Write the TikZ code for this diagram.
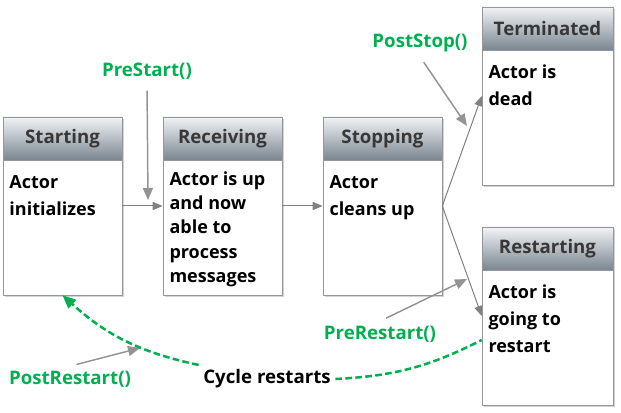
\documentclass[tikz,border=0pt]{standalone}
\usepackage{fontspec}
\setmainfont{Open Sans}
\usetikzlibrary{arrows.meta,shadows,positioning}

\definecolor{hookgreen}{RGB}{0,176,80}
\definecolor{framegray}{RGB}{150,150,150}
\definecolor{linkgray}{RGB}{128,128,128}
\definecolor{headtop}{RGB}{242,244,246}
\definecolor{headbot}{RGB}{122,134,144}

\tikzset{
  statebox/.style={draw=framegray, fill=white, inner sep=0pt,
    minimum width={119*0.75pt}, minimum height={178*0.75pt},
    drop shadow={shadow xshift=1.2pt, shadow yshift=-1.2pt, opacity=0.35}},
  widebox/.style={minimum width={131*0.75pt}},
  headbar/.style={draw=framegray, top color=headtop, bottom color=headbot,
    anchor=north, inner sep=0pt, minimum width={119*0.75pt},
    minimum height={43*0.75pt}, text=black!78,
    font=\bfseries\fontsize{14}{16}\selectfont},
  bodytext/.style={anchor=north west, align=left, inner sep=0pt,
    execute at begin node=\rule{0pt}{15pt},
    font=\bfseries\fontsize{13.5}{20.5}\selectfont},
  flowarrow/.style={draw=linkgray, line width=0.75pt,
    -{Triangle[length=7.5pt,width=6pt]}},
  hintarrow/.style={draw=linkgray!85, line width=1.1pt, shorten <=5pt,
    -{Triangle[length=9pt,width=7.5pt]}},
  hooklabel/.style={text=hookgreen, font=\bfseries\fontsize{14}{16}\selectfont},
  loopline/.style={draw=hookgreen, line width=1.9pt,
    dash pattern=on 5pt off 2.5pt}
}

\begin{document}
\begin{tikzpicture}[x=0.75pt, y=-0.75pt]
  \useasboundingbox (0,0) rectangle (621,413);

  % states
  \node[statebox] (starting) at (62.5,206) {};
  \node[headbar] (starting-head) at (starting.north) {Starting};
  \node[bodytext] (starting-text) at ([shift={(6.5,15)}]starting-head.south west)
    {Actor\\initializes};

  \node[statebox] (receiving) at (222.5,206) {};
  \node[headbar] (receiving-head) at (receiving.north) {Receiving};
  \node[bodytext, font=\bfseries\fontsize{13.5}{18.2}\selectfont] (receiving-text)
    at ([shift={(6.5,11)}]receiving-head.south west)
    {Actor is up\\and now\\able to\\process\\messages};

  \node[statebox] (stopping) at (382.5,206) {};
  \node[headbar] (stopping-head) at (stopping.north) {Stopping};
  \node[bodytext] (stopping-text) at ([shift={(6.5,15)}]stopping-head.south west)
    {Actor\\cleans up};

  \node[statebox, widebox] (terminated) at (547.5,96) {};
  \node[headbar, widebox] (terminated-head) at (terminated.north) {Terminated};
  \node[bodytext] (terminated-text) at ([shift={(6.5,14)}]terminated-head.south west)
    {Actor is\\dead};

  \node[statebox, widebox] (restarting) at (547.5,316) {};
  \node[headbar, widebox] (restarting-head) at (restarting.north) {Restarting};
  \node[bodytext] (restarting-text) at ([shift={(6.5,14)}]restarting-head.south west)
    {Actor is\\going to\\restart};

  % hooks
  \node[hooklabel] (prestart) at (147,71) {PreStart()};
  \node[hooklabel] (poststop) at (420,43) {PostStop()};
  \node[hooklabel] (prerestart) at (380,334) {PreRestart()};
  \node[hooklabel] (postrestart) at (70,379) {PostRestart()};
  \node[font=\bfseries\fontsize{14}{16}\selectfont] (cycle) at (267,379) {Cycle restarts};

  \coordinate (prestart-tip) at (148,200);
  \coordinate (poststop-tip) at (467,126);
  \coordinate (prerestart-tip) at (467,279);
  \coordinate (postrestart-tip) at (140,348);

  \begin{scope}
    \draw[flowarrow] (starting) -- (receiving);
    \draw[flowarrow] (receiving) -- (stopping);
    \draw[flowarrow] (stopping.east) -- (terminated.west);
    \draw[flowarrow] (stopping.east) -- (restarting.west);
    \draw[hintarrow] (prestart.south) -- (prestart-tip);
    \draw[hintarrow] (poststop.south) -- (poststop-tip);
    \draw[hintarrow] (prerestart.north) -- (prerestart-tip);
    \draw[hintarrow] (postrestart.north) -- (postrestart-tip);
    \draw[loopline, -{Triangle[length=10pt,width=8.5pt]}]
      (cycle.north west) to[bend left=15] (starting.south);
    \draw[loopline] (cycle.east) to[bend right=12] ([yshift=-18pt]restarting.west);
  \end{scope}
\end{tikzpicture}
\end{document}
